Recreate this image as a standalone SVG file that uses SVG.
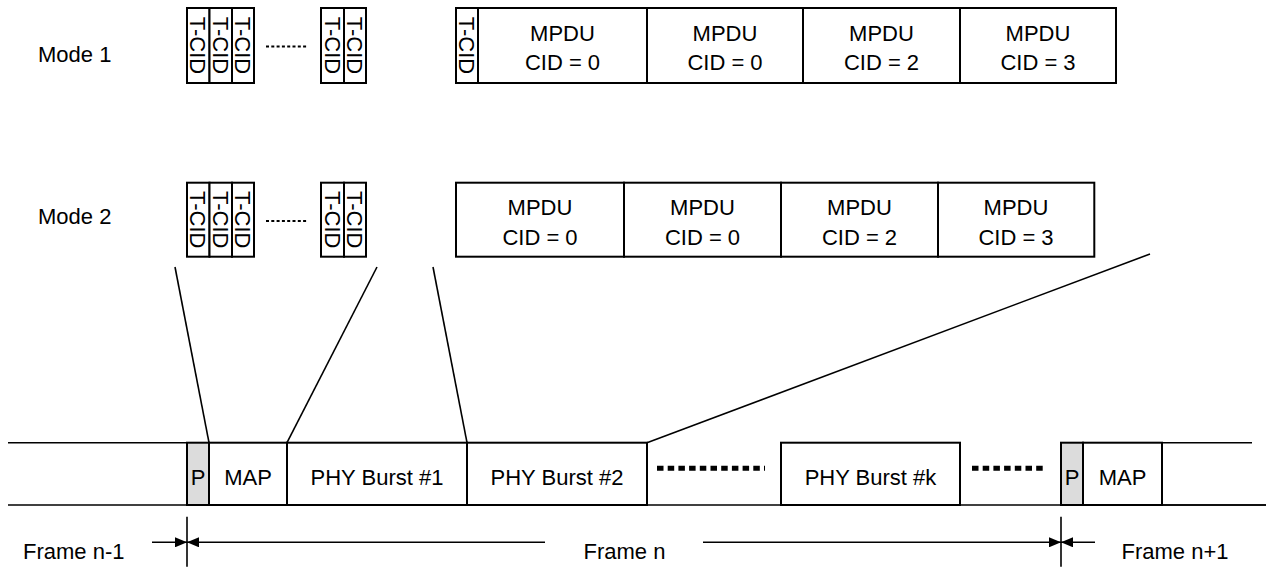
<svg xmlns="http://www.w3.org/2000/svg" width="1266" height="568" viewBox="0 0 1266 568">
<style>
text{font-family:"Liberation Sans",Arial,sans-serif;font-size:22px;fill:#000}
.m{text-anchor:middle}
.box{fill:#fff;stroke:#000;stroke-width:2}
.gray{fill:#dcdcdc;stroke:#000;stroke-width:2}
.ln{stroke:#000;stroke-width:1.6;fill:none}
.sdots{stroke:#000;stroke-width:2.2;stroke-dasharray:3 2.3;fill:none}
.bdots{stroke:#000;stroke-width:5;stroke-dasharray:6.5 4.2;fill:none}
</style>
<defs>
<marker id="ah" viewBox="0 0 12 10" refX="12" refY="5" markerWidth="12" markerHeight="10" markerUnits="userSpaceOnUse" orient="auto">
<path d="M0,0 L12,5 L0,10 Z" fill="#000"/>
</marker>
</defs>

<g id="mode1-label"><text x="38" y="61.5" font-size="21">Mode 1</text></g>
<g id="mode2-label"><text x="38" y="224" font-size="21">Mode 2</text></g>

<g id="mode1-tcid-a">
<rect class="box" x="187" y="8" width="22.5" height="75"/>
<rect class="box" x="209.5" y="8" width="22.5" height="75"/>
<rect class="box" x="232" y="8" width="22" height="75"/>
<text transform="translate(198.2,45.5) rotate(90)" class="m" dy="7.8">T-CID</text>
<text transform="translate(220.7,45.5) rotate(90)" class="m" dy="7.8">T-CID</text>
<text transform="translate(243,45.5) rotate(90)" class="m" dy="7.8">T-CID</text>
<line class="sdots" x1="266" y1="46.5" x2="308" y2="46.5"/>
</g>
<g id="mode1-tcid-b">
<rect class="box" x="321" y="8" width="23" height="75"/>
<rect class="box" x="344" y="8" width="22" height="75"/>
<text transform="translate(332.5,45.5) rotate(90)" class="m" dy="7.8">T-CID</text>
<text transform="translate(355,45.5) rotate(90)" class="m" dy="7.8">T-CID</text>
</g>
<g id="mode1-mpdus">
<rect class="box" x="456" y="8" width="22" height="75"/>
<text transform="translate(467,45.5) rotate(90)" class="m" dy="7.8">T-CID</text>
<rect class="box" x="478" y="8" width="169" height="75"/>
<rect class="box" x="647" y="8" width="156" height="75"/>
<rect class="box" x="803" y="8" width="157" height="75"/>
<rect class="box" x="960" y="8" width="156" height="75"/>
<text class="m" x="562.5" y="40.5">MPDU</text><text class="m" x="562.5" y="70">CID = 0</text>
<text class="m" x="725" y="40.5">MPDU</text><text class="m" x="725" y="70">CID = 0</text>
<text class="m" x="881.5" y="40.5">MPDU</text><text class="m" x="881.5" y="70">CID = 2</text>
<text class="m" x="1038" y="40.5">MPDU</text><text class="m" x="1038" y="70">CID = 3</text>
</g>

<g id="mode2-tcid-a">
<rect class="box" x="187" y="182.7" width="22.5" height="74"/>
<rect class="box" x="209.5" y="182.7" width="22.5" height="74"/>
<rect class="box" x="232" y="182.7" width="22" height="74"/>
<text transform="translate(198.2,219.7) rotate(90)" class="m" dy="7.8">T-CID</text>
<text transform="translate(220.7,219.7) rotate(90)" class="m" dy="7.8">T-CID</text>
<text transform="translate(243,219.7) rotate(90)" class="m" dy="7.8">T-CID</text>
<line class="sdots" x1="266" y1="221" x2="308" y2="221"/>
</g>
<g id="mode2-tcid-b">
<rect class="box" x="321" y="182.7" width="23" height="74"/>
<rect class="box" x="344" y="182.7" width="22" height="74"/>
<text transform="translate(332.5,219.7) rotate(90)" class="m" dy="7.8">T-CID</text>
<text transform="translate(355,219.7) rotate(90)" class="m" dy="7.8">T-CID</text>
</g>
<g id="mode2-mpdus">
<rect class="box" x="456" y="182.7" width="168" height="74"/>
<rect class="box" x="624" y="182.7" width="157" height="74"/>
<rect class="box" x="781" y="182.7" width="157" height="74"/>
<rect class="box" x="938" y="182.7" width="156.3" height="74"/>
<text class="m" x="540" y="214.7">MPDU</text><text class="m" x="540" y="244.5">CID = 0</text>
<text class="m" x="702.5" y="214.7">MPDU</text><text class="m" x="702.5" y="244.5">CID = 0</text>
<text class="m" x="859.5" y="214.7">MPDU</text><text class="m" x="859.5" y="244.5">CID = 2</text>
<text class="m" x="1016" y="214.7">MPDU</text><text class="m" x="1016" y="244.5">CID = 3</text>
</g>

<g id="timeline">
<line class="ln" x1="8" y1="442.7" x2="187" y2="442.7"/>
<line class="ln" x1="1083" y1="442.7" x2="1252" y2="442.7"/>
<line class="ln" x1="8" y1="505" x2="1266" y2="505"/>
<rect class="gray" x="187" y="442.7" width="22" height="62.3"/>
<rect class="box" x="209" y="442.7" width="78" height="62.3"/>
<rect class="box" x="287" y="442.7" width="180" height="62.3"/>
<rect class="box" x="467" y="442.7" width="180" height="62.3"/>
<rect class="box" x="781" y="442.7" width="179" height="62.3"/>
<rect class="gray" x="1061" y="442.7" width="22" height="62.3"/>
<rect class="box" x="1083" y="442.7" width="79" height="62.3"/>
<line class="ln" x1="1162" y1="505" x2="1266" y2="505"/>
<text class="m" x="198" y="485">P</text>
<text class="m" x="248" y="485">MAP</text>
<text class="m" x="377" y="485">PHY Burst #1</text>
<text class="m" x="557" y="485">PHY Burst #2</text>
<text class="m" x="870.5" y="485">PHY Burst #k</text>
<text class="m" x="1072" y="485">P</text>
<text class="m" x="1122.5" y="485">MAP</text>
<line class="bdots" x1="657" y1="468.3" x2="765" y2="468.3"/>
<line class="bdots" x1="972" y1="468.3" x2="1046" y2="468.3"/>
</g>

<g id="connectors">
<line class="ln" x1="175" y1="267" x2="209" y2="442.7"/>
<line class="ln" x1="377" y1="267" x2="287" y2="442.7"/>
<line class="ln" x1="433" y1="267" x2="467" y2="442.7"/>
<line class="ln" x1="1150" y1="254" x2="647" y2="442.7"/>
</g>

<g id="frame-markers">
<line class="ln" x1="187" y1="516.7" x2="187" y2="566.7"/>
<line class="ln" x1="1061" y1="516.7" x2="1061" y2="566.7"/>
<line class="ln" x1="152" y1="542.3" x2="187" y2="542.3" marker-end="url(#ah)"/>
<line class="ln" x1="545" y1="542.3" x2="187" y2="542.3" marker-end="url(#ah)"/>
<line class="ln" x1="703" y1="542.3" x2="1061" y2="542.3" marker-end="url(#ah)"/>
<line class="ln" x1="1095" y1="542.3" x2="1061" y2="542.3" marker-end="url(#ah)"/>
<text x="23" y="559">Frame n-1</text>
<text class="m" x="624.5" y="559">Frame n</text>
<text x="1121.5" y="559">Frame n+1</text>
</g>
</svg>
